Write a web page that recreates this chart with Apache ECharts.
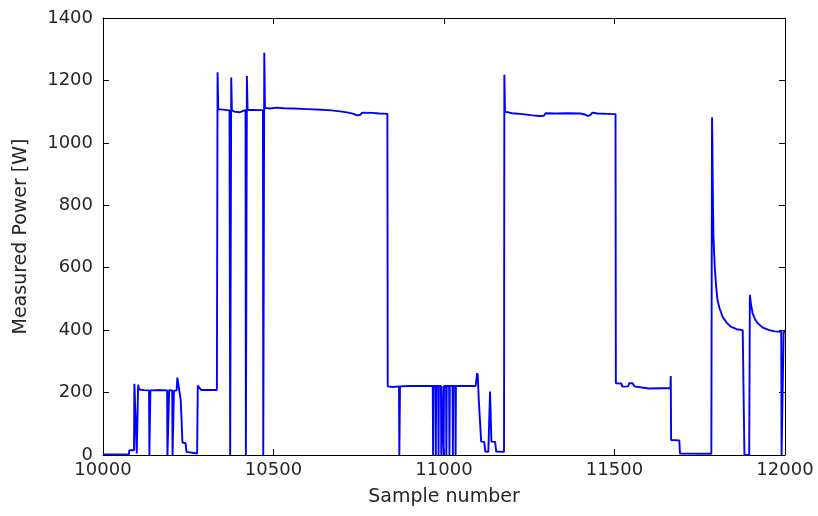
<!DOCTYPE html>
<html>
<head>
<meta charset="utf-8">
<script src="https://cdn.jsdelivr.net/npm/echarts@6/dist/echarts.min.js"></script>
<style>html,body{margin:0;padding:0;background:#fff}#c{width:818px;height:516px}</style>
</head>
<body>
<div id="c"></div>
<script>
// [sample number, measured power W], segment by segment
var idleStart = [
[10000,2],[10076,2],[10077,15],[10091,15],[10092,228],[10097,226],[10099,5],[10102,5],[10103,225],[10106,210],
[10120,208],[10135,207],[10136,0],[10138,0],[10139,207],[10160,208],[10188,207],[10189,0],[10193,0],[10194,208],
[10203,207],[10204,0],[10207,0],[10208,206],[10216,207],[10218,248],[10221,244],[10224,205],[10228,175],[10231,170],
[10233,40],[10242,38],[10245,10],[10250,5],[10276,5],[10278,222],[10282,216],[10288,208],[10334,208]
];
var highLoad1 = [
[10336,1226],[10338,1108],[10339,1105],[10371,1104],[10372,1104],[10373,0],[10375,0],[10376,1209],[10378,1105],[10385,1100],
[10400,1098],[10410,1102],[10418,1105],[10419,0],[10421,0],[10422,1214],[10424,1106],[10460,1105],[10469,1105],[10470,0],
[10472,0],[10473,1289],[10475,1112],[10490,1110],[10510,1113],[10530,1111],[10560,1110],[10600,1108],[10640,1106],[10670,1104],
[10700,1100],[10720,1097],[10735,1093],[10745,1088],[10755,1090],[10760,1097],[10790,1096],[10810,1094],[10834,1093]
];
var midLoad1 = [
[10835,220],[10850,218],[10868,220],[10869,0],[10870,0],[10871,220],[10900,221],[10940,221],
[10967,221],[10968,0],[10969,221],[10975,221],[10976,0],[10977,221],[10983,221],[10984,0],[10985,221],
[10991,221],[10992,0],[10993,221],[10998,221],[10999,0],[11000,221],[11006,221],[11007,0],[11008,221],
[11015,221],[11016,0],[11017,221],[11025,221],[11026,0],[11027,221],[11033,221],[11034,0],[11035,221],
[11060,221],[11093,221],[11097,262],[11099,255],[11102,176],[11104,170],[11109,43],[11118,42],[11121,11],
[11130,10],[11133,10],[11135,203],[11137,200],[11139,43],[11150,42],[11153,11],[11176,10]
];
var highLoad2 = [
[11177,1218],[11179,1100],[11200,1095],[11230,1092],[11260,1088],[11280,1086],[11293,1087],[11298,1095],[11330,1094],[11360,1095],
[11400,1094],[11415,1090],[11421,1086],[11430,1090],[11435,1097],[11450,1094],[11480,1093],[11503,1092]
];
var midLoad2 = [
[11504,230],[11520,229],[11523,219],[11540,220],[11543,230],[11553,230],[11558,220],[11562,214],[11600,213],[11640,214],
[11664,214],[11665,253],[11666,48],[11690,47],[11692,5],[11784,4]
];
var decayTail = [
[11786,1082],[11787,1000],[11788,880],[11789,790],[11790,710],[11792,650],[11794,603],[11798,540],[11802,497],[11808,470],
[11817,443],[11828,425],[11841,411],[11858,403],[11876,400],[11880,397],[11881,0],[11895,0],[11897,513],[11900,485],
[11905,454],[11912,435],[11920,422],[11935,408],[11954,400],[11970,396],[11989,395],[11990,0],[11995,0],[11996,395],[12000,395]
];
var xTicks = [10000, 10500, 11000, 11500, 12000];
var yTicks = [0, 200, 400, 600, 800, 1000, 1200, 1400];

var pts = [].concat(idleStart, highLoad1, midLoad1, highLoad2, midLoad2, decayTail);
var font = 'DejaVu Sans';
var txt = '#262626';
var chart = echarts.init(document.getElementById('c'), null, {renderer: 'canvas'});
function ax(show, pos, isX) {
  return {
    type: 'value', position: pos,
    min: isX ? xTicks[0] : yTicks[0],
    max: isX ? xTicks[xTicks.length - 1] : yTicks[yTicks.length - 1],
    interval: isX ? xTicks[1] - xTicks[0] : yTicks[1] - yTicks[0],
    axisLine: {show: true, onZero: false, lineStyle: {color: '#000', width: 1}},
    axisTick: {show: true, inside: true, length: 6, lineStyle: {color: '#000'}},
    splitLine: {show: false},
    axisLabel: {show: show, color: txt, fontFamily: font, fontSize: 18, margin: isX ? 6 : 10,
      formatter: function (v) { return String(v); }}
  };
}
var xa = ax(true, 'bottom', true);
xa.name = 'Sample number'; xa.nameLocation = 'middle'; xa.nameGap = 33;
xa.nameTextStyle = {color: txt, fontFamily: font, fontSize: 19};
var xb = ax(false, 'top', true);
var ya = ax(true, 'left', false);
ya.name = 'Measured Power [W]'; ya.nameLocation = 'middle'; ya.nameGap = 72;
ya.nameTextStyle = {color: txt, fontFamily: font, fontSize: 19};
var yb = ax(false, 'right', false);

chart.setOption({
  animation: false,
  backgroundColor: '#fff',
  grid: {left: 103, right: 33, top: 18, bottom: 61, containLabel: false},
  xAxis: [xa, xb],
  yAxis: [ya, yb],
  series: [{
    type: 'line', xAxisIndex: 0, yAxisIndex: 0, data: pts,
    showSymbol: false, symbol: 'none', clip: true,
    lineStyle: {color: '#0000ff', width: 1.9},
    itemStyle: {color: '#0000ff'}
  }]
});
</script>
</body>
</html>
